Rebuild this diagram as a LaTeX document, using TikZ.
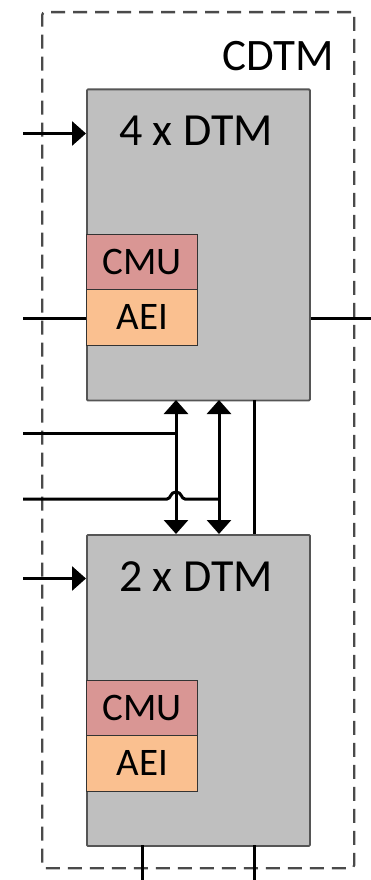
\documentclass[tikz,border=0pt]{standalone}
\usepackage{fontspec}
\setmainfont{Carlito}
\usetikzlibrary{arrows.meta}
\definecolor{blockgray}{HTML}{BFBFBF}
\definecolor{blockedge}{HTML}{555555}
\definecolor{cmufill}{HTML}{D99694}
\definecolor{aeifill}{HTML}{FAC090}
\definecolor{dashgray}{HTML}{4A4A4A}
\begin{document}
\begin{tikzpicture}[x=1pt,y=-1pt,
  block/.style={draw=blockedge,line width=1.8pt,fill=blockgray,minimum width=223pt,minimum height=311pt,anchor=north west,inner sep=0pt,rounded corners=1pt},
  subbox/.style={draw=black!80,line width=1.4pt,minimum width=111pt,minimum height=55.5pt,anchor=north west,inner sep=0pt,font=\fontsize{39}{42}\selectfont},
  title/.style={inner sep=0pt,font=\fontsize{46}{52}\selectfont},
  wire/.style={line width=3pt,black},
  tip/.style={-{Triangle[width=24pt,length=14pt]}},
  both/.style={{Triangle[width=24pt,length=14pt]}-{Triangle[width=24pt,length=14pt]}}]
\useasboundingbox (0,0) rectangle (371,880);
% outer dashed box
\node[draw=dashgray,line width=2.3pt,dash pattern=on 14pt off 8pt,rounded corners=3pt,minimum width=312pt,minimum height=856pt,anchor=north west,inner sep=0pt] (cdtm) at (41,11) {};
\node[title,font=\fontsize{45}{50}\selectfont] (cdtmlabel) at (278,56) {CDTM};
% blocks
\node[block] (dtm4) at (86,88.5) {};
\node[block] (dtm2) at (86,534) {};
\node[title] (t4) at (196,131) {4 x DTM};
\node[title] (t2) at (196,577) {2 x DTM};
\node[subbox,fill=cmufill] (cmu1) at (86,233.5) {CMU};
\node[subbox,fill=aeifill] (aei1) at (86,289) {AEI};
\node[subbox,fill=cmufill] (cmu2) at (86,679.5) {CMU};
\node[subbox,fill=aeifill] (aei2) at (86,735) {AEI};
% free ends
\coordinate (in4) at (23,133.5);
\coordinate (in2) at (23,578.5);
\coordinate (aeil) at (23,318);
\coordinate (aeir) at (371,318);
\coordinate (busA) at (23,433);
\coordinate (busB) at (23,499);
\coordinate (bot1) at (142,880);
\coordinate (bot2) at (254,880);
% inputs
\draw[wire,tip] (in4) -- (in4 -| dtm4.west);
\draw[wire,tip] (in2) -- (in2 -| dtm2.west);
\draw[wire] (aeil) -- (aeil -| dtm4.west);
\draw[wire] (dtm4.east |- aeir) -- (aeir);
% inter-block connections
\draw[wire,both] (176,400) -- (176,534);
\draw[wire,both] (219,400) -- (219,534);
\draw[wire] (254,400) -- (254,534);
\draw[wire] (busA) -- (177.5,433);
\draw[wire] (busB) -- (167,499) .. controls (171,499) and (170,492) .. (176,492) .. controls (182,492) and (181,499) .. (185,499) -- (220.5,499);
% bottom outputs
\draw[wire] (142,845) -- (bot1);
\draw[wire] (254,845) -- (bot2);
\end{tikzpicture}
\end{document}
